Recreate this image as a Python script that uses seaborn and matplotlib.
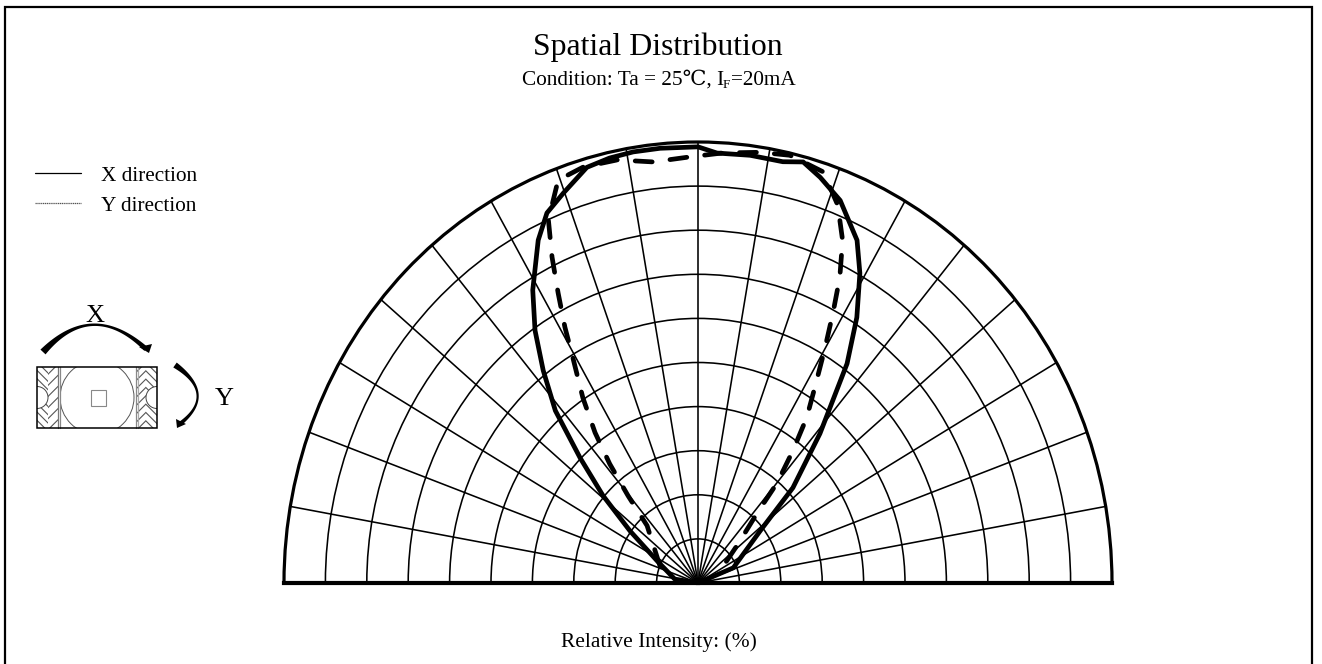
import matplotlib
matplotlib.use("Agg")
import matplotlib.pyplot as plt
from matplotlib.patches import Rectangle, Circle
import numpy as np
import pandas as pd
import seaborn as sns

# angle (deg) and relative intensity (%)
x_angle = [-90, -81, -63, -54.3, -49.2, -45.1, -41.4, -37.8, -34.5, -31, -26.4, -23.5, -20.2, -15.9,
           -12.5, -9.1, -5.3, 0, 2.7, 7.4, 12.1, 14.9, 17.8, 21.6, 26.3, 29.1, 32.5, 35.9, 41, 46.7,
           51.8, 68, 90]
x_intensity = [0, 5.7, 11.1, 20.2, 30.3, 40.2, 52.1, 61, 69.5, 77.5, 86.8, 91.5, 94.2, 98,
               98.7, 99, 99, 98.9, 97.6, 97.8, 97.7, 98.8, 96.6, 93.3, 86.7, 80.4, 71.4, 61.4, 44.9, 31.5,
               19.1, 9.2, 0]
y_angle = [-67, -43.4, -40.5, -38.3, -36.1, -33.5, -30.6, -29, -27.2, -25.5, -23.7, -20.3, -16.4, -11.5,
           -6.5, -1.4, 3.5, 8.7, 12.9, 18, 21.5, 24.2, 26.3, 28, 29.9, 32.2, 35, 37.4, 40.1, 42, 47.5, 63]
y_intensity = [10, 17.9, 26, 34.4, 42.2, 50.4, 59.4, 66.3, 73.9, 81.9, 89.9, 97.4, 98.3, 97.9,
               96.1, 96.6, 97.7, 98.8, 99.5, 98, 92.1, 85.2, 77.3, 69.5, 61.6, 53.4, 45.8, 37.7, 29.7, 21.4, 13.2, 5.9]
angle_ticks = [-80, -70, -60, -50, -40, -30, -20, -10, 0, 10, 20, 30, 40, 50, 60, 70, 80]
ring_ticks = [10, 20, 30, 40, 50, 60, 70, 80, 90]

title = "Spatial Distribution"
legend_labels = ["X direction", "Y direction"]
bottom_label = "Relative Intensity: (%)"

W, H = 1322, 664

sns.set_theme(style="white")
plt.rcParams["font.family"] = ["Liberation Serif", "DejaVu Serif", "Noto Sans CJK SC"]
plt.rcParams["hatch.linewidth"] = 0.8

fig = plt.figure(figsize=(W / 100, H / 100), dpi=100, facecolor="white")


def tapered_arrow(ax, p0, ctrl, p1, w0, w_mid, w1, head):
    t = np.linspace(0, 1, 60)
    p0, ctrl, p1 = np.array(p0), np.array(ctrl), np.array(p1)
    pts = np.outer((1 - t) ** 2, p0) + np.outer(2 * t * (1 - t), ctrl) + np.outer(t ** 2, p1)
    d = np.gradient(pts, axis=0)
    n = np.c_[-d[:, 1], d[:, 0]] / np.hypot(d[:, 0], d[:, 1])[:, None]
    w = w_mid + (w0 - w_mid) * (1 - t) ** 3 + (w1 - w_mid) * t ** 3
    poly = np.r_[pts + n * w[:, None] / 2, (pts - n * w[:, None] / 2)[::-1]]
    ax.fill(poly[:, 0], poly[:, 1], color="black", lw=0)
    ax.fill([h[0] for h in head], [h[1] for h in head], color="black", lw=0)


# overlay in pixel coordinates for frame, texts and the package sketch
over = fig.add_axes([0, 0, 1, 1], zorder=2)
over.set_xlim(0, W)
over.set_ylim(H, 0)
over.axis("off")
over.patch.set_alpha(0)

over.plot([5, 5, 1312, 1312], [H, 7, 7, H], color="black", lw=1.6, solid_joinstyle="miter")

over.text(658, 55, title, fontsize=22.9, ha="center", va="baseline", color="black")
over.text(522, 85, "Condition: Ta = 25℃, I", fontsize=15.3, ha="left", va="baseline", color="black")
over.text(723, 88, "F", fontsize=9.5, ha="left", va="baseline", color="black")
over.text(796, 85, "=20mA", fontsize=15.3, ha="right", va="baseline", color="black")
over.text(659, 647, bottom_label, fontsize=15.4, ha="center", va="baseline", color="black")

over.plot([35, 81], [173, 173], color="black", lw=0.9)
over.plot([35, 81], [203, 203], color="#555555", lw=0.9, ls=(0, (1, 0.5)))
over.text(101, 181, legend_labels[0], fontsize=15.3, va="baseline", color="black")
over.text(101, 211, legend_labels[1], fontsize=15.3, va="baseline", color="black")

over.text(95, 322, "X", fontsize=19, ha="center", va="baseline", color="black")
over.text(224, 405, "Y", fontsize=19, ha="center", va="baseline", color="black")
tapered_arrow(over, (43, 352), (92, 299), (146, 349), 7, 1.3, 5, [(149, 353), (139, 347), (152, 344)])
tapered_arrow(over, (175, 365), (217, 394), (181, 423), 6, 1.3, 4, [(177, 428), (176, 419), (186, 424)])

# package sketch
body = Rectangle((37, 367), 120, 61, fc="white", ec="none")
over.add_patch(body)
for x0, w, hatch in [(37, 11, "\\\\\\\\"), (48, 10, "///"), (137, 9, "////"), (146, 11, "\\\\\\\\")]:
    over.add_patch(Rectangle((x0, 367), w, 61, fc="white", ec="#555555", lw=0, hatch=hatch))
for cx in (37, 157):
    notch = Circle((cx, 397.5), 11, fc="white", ec="#444444", lw=0.7)
    over.add_patch(notch)
    notch.set_clip_path(body)
lens = Circle((97, 397.5), 37, fc="white", ec="#555555", lw=0.7, zorder=3)
over.add_patch(lens)
lens.set_clip_path(Rectangle((60, 367), 76, 61, transform=over.transData))
over.add_patch(Rectangle((90.5, 389.5), 15, 16, fc="white", ec="#888888", lw=0.8, zorder=4))
for xv, col in [(58, "#777777"), (60, "#888888"), (136, "#888888"), (138, "#aaaaaa")]:
    over.plot([xv, xv], [367, 428], color=col, lw=0.9, zorder=4)
over.add_patch(Rectangle((37, 367), 120, 61, fc="none", ec="black", lw=1.1, zorder=5))

# polar wedge only fills half of the axes height, so the box is twice the chart height
ax = fig.add_axes([284 / W, 1 - 803.5 / H, 828 / W, 882 / H], projection="polar", zorder=1)
ax.set_aspect("auto")
ax.patch.set_alpha(0)
ax.set_theta_zero_location("N")
ax.set_theta_direction(-1)
ax.set_thetalim(np.radians(-90), np.radians(90))
ax.set_rlim(0, 100)
ax.set_thetagrids(angle_ticks, labels=[])
ax.set_rgrids(ring_ticks, labels=[])
ax.grid(True, color="black", lw=1.15)
ax.tick_params(length=0)
for name, spine in ax.spines.items():
    spine.set_color("black")
    spine.set_linewidth(2.3 if name == "polar" else 3.0)

x_df = pd.DataFrame({"angle": np.radians(x_angle), "intensity": x_intensity})
y_df = pd.DataFrame({"angle": np.radians(y_angle), "intensity": y_intensity})
sns.lineplot(data=x_df, x="angle", y="intensity", ax=ax, sort=False, errorbar=None,
             color="black", lw=3.4, solid_joinstyle="round")
sns.lineplot(data=y_df, x="angle", y="intensity", ax=ax, sort=False, errorbar=None,
             color="black", lw=3.4, linestyle=(0, (3.6, 3.8)), dash_capstyle="round")
ax.set_xlabel("")
ax.set_ylabel("")

fig.savefig("out.png", dpi=100, facecolor="white")
